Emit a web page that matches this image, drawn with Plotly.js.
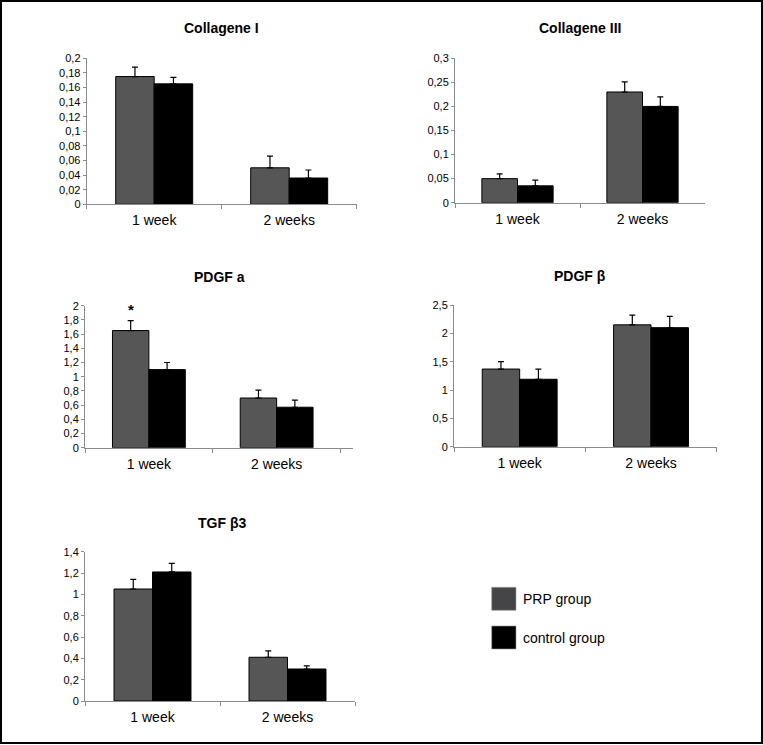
<!DOCTYPE html>
<html>
<head>
<meta charset="utf-8">
<script src="https://cdn.plot.ly/plotly-3.0.1.min.js"></script>
<style>html,body{margin:0;padding:0;background:#fff;}#chart{width:763px;height:745px;}</style>
</head>
<body>
<div id="chart"></div>
<script>
// ---- data ----
const categories = ['1 week', '2 weeks'];
const seriesNames = ['PRP group', 'control group'];

const panelTitles = ['Collagene I', 'Collagene III', 'PDGF a', 'PDGF β', 'TGF β3'];

const col1Prp = [0.175, 0.050];
const col1PrpErr = [0.013, 0.016];
const col1Ctrl = [0.165, 0.036];
const col1CtrlErr = [0.009, 0.011];

const col3Prp = [0.050, 0.230];
const col3PrpErr = [0.010, 0.021];
const col3Ctrl = [0.035, 0.200];
const col3CtrlErr = [0.012, 0.020];

const pdgfaPrp = [1.65, 0.70];
const pdgfaPrpErr = [0.14, 0.11];
const pdgfaCtrl = [1.10, 0.57];
const pdgfaCtrlErr = [0.10, 0.10];

const pdgfbPrp = [1.37, 2.15];
const pdgfbPrpErr = [0.13, 0.17];
const pdgfbCtrl = [1.19, 2.10];
const pdgfbCtrlErr = [0.18, 0.20];

const tgfPrp = [1.05, 0.41];
const tgfPrpErr = [0.09, 0.06];
const tgfCtrl = [1.21, 0.30];
const tgfCtrlErr = [0.08, 0.03];

const yMax = [0.2, 0.3, 2, 2.5, 1.4];
const yStep = [0.02, 0.05, 0.2, 0.5, 0.2];

// ---- build ----
const W = 763, H = 745;
const prpColor = '#565656';
const ctrlColor = '#000000';
const font = 'Liberation Sans, Arial, Helvetica, sans-serif';

const panels = [
  {prp: col1Prp, prpErr: col1PrpErr, ctrl: col1Ctrl, ctrlErr: col1CtrlErr, x: [86.7, 356.7], y: [204.3, 58.3], xr: [-0.5, 1.5]},
  {prp: col3Prp, prpErr: col3PrpErr, ctrl: col3Ctrl, ctrlErr: col3CtrlErr, x: [455, 705], y: [202.7, 58.3], xr: [-0.5, 1.5]},
  {prp: pdgfaPrp, prpErr: pdgfaPrpErr, ctrl: pdgfaCtrl, ctrlErr: pdgfaCtrlErr, x: [85, 353.3], y: [447.7, 305.7], xr: [-0.5, 1.6]},
  {prp: pdgfbPrp, prpErr: pdgfbPrpErr, ctrl: pdgfbCtrl, ctrlErr: pdgfbCtrlErr, x: [454, 716.7], y: [446.7, 305], xr: [-0.5, 1.5]},
  {prp: tgfPrp, prpErr: tgfPrpErr, ctrl: tgfCtrl, ctrlErr: tgfCtrlErr, x: [85, 355], y: [701, 551.7], xr: [-0.5, 1.5]}
];

const data = [];
const layout = {
  width: W, height: H,
  margin: {l: 0, r: 0, t: 0, b: 0},
  paper_bgcolor: '#ffffff', plot_bgcolor: '#ffffff',
  showlegend: false,
  barmode: 'group', bargap: 0.43, bargroupgap: 0,
  separators: ', ',
  font: {family: font, color: '#000', size: 11},
  annotations: [], shapes: []
};

panels.forEach((p, i) => {
  const n = i === 0 ? '' : String(i + 1);
  const xa = 'x' + n, ya = 'y' + n;
  const errStyle = (arr) => ({type: 'data', array: arr, arrayminus: arr.map(() => 0), symmetric: false,
                              visible: true, color: '#000', thickness: 1.2, width: 3});
  data.push({type: 'bar', name: seriesNames[0], x: categories, y: p.prp, xaxis: xa, yaxis: ya,
             marker: {color: prpColor, line: {color: '#000', width: 1}}, error_y: errStyle(p.prpErr), hoverinfo: 'none'});
  data.push({type: 'bar', name: seriesNames[1], x: categories, y: p.ctrl, xaxis: xa, yaxis: ya,
             marker: {color: ctrlColor, line: {color: '#000', width: 1}}, error_y: errStyle(p.ctrlErr), hoverinfo: 'none'});
  layout['xaxis' + n] = {
    domain: [p.x[0] / W, p.x[1] / W], anchor: ya, type: 'category', range: p.xr,
    showline: true, linecolor: '#8c8c8c', linewidth: 1, showgrid: false, zeroline: false,
    ticks: 'outside', tickson: 'boundaries', ticklen: 4, tickcolor: '#8c8c8c',
    ticklabelstandoff: 3,
    tickfont: {size: 14, family: font, color: '#000'}, fixedrange: true
  };
  layout['yaxis' + n] = {
    domain: [(H - p.y[0]) / H, (H - p.y[1]) / H], anchor: xa, range: [0, yMax[i]], dtick: yStep[i], tick0: 0,
    showline: true, linecolor: '#8c8c8c', linewidth: 1, showgrid: false, zeroline: false,
    ticks: 'outside', ticklen: 3, tickcolor: '#8c8c8c',
    tickfont: {size: 11, family: font, color: '#000'}, fixedrange: true
  };
  const titleY = [28, 28, 276.5, 276, 523][i];
  layout.annotations.push({
    text: '<b>' + panelTitles[i] + '</b>', xref: 'paper', yref: 'paper',
    x: ((p.x[0] + p.x[1]) / 2 + [0, 0, 0, -5, 2][i]) / W, y: (H - titleY) / H,
    xanchor: 'center', yanchor: 'middle', showarrow: false,
    font: {size: 14, family: font, color: '#000'}
  });
});

// significance star on PDGF a, 1 week PRP bar
layout.annotations.push({
  text: '<b>*</b>', xref: 'x3', yref: 'y3', x: categories[0], y: pdgfaPrp[0] + pdgfaPrpErr[0],
  xshift: -18, yshift: 1, xanchor: 'center', yanchor: 'bottom', showarrow: false,
  font: {size: 15, family: font, color: '#000'}
});

// legend (drawn manually to match the large square swatches)
const legendItems = [
  {name: seriesNames[0], color: '#454548', top: 587.3},
  {name: seriesNames[1], color: '#000000', top: 626}
];
legendItems.forEach(it => {
  layout.shapes.push({type: 'rect', xref: 'paper', yref: 'paper',
    x0: 491.7 / W, x1: 516 / W, y0: (H - it.top - 23) / H, y1: (H - it.top) / H,
    fillcolor: it.color, line: {color: '#9a9a9a', width: 0.6}});
  layout.annotations.push({text: it.name, xref: 'paper', yref: 'paper',
    x: 521 / W, y: (H - it.top - 12) / H, xanchor: 'left', yanchor: 'middle', showarrow: false,
    font: {size: 14, family: font, color: '#000'}});
});

// outer frame
layout.shapes.push({type: 'rect', xref: 'paper', yref: 'paper',
  x0: 1 / W, x1: 762 / W, y0: (H - 743) / H, y1: (H - 1) / H,
  line: {color: '#000', width: 2}, fillcolor: 'rgba(0,0,0,0)'});

Plotly.newPlot('chart', data, layout, {staticPlot: true, displayModeBar: false});
</script>
</body>
</html>
